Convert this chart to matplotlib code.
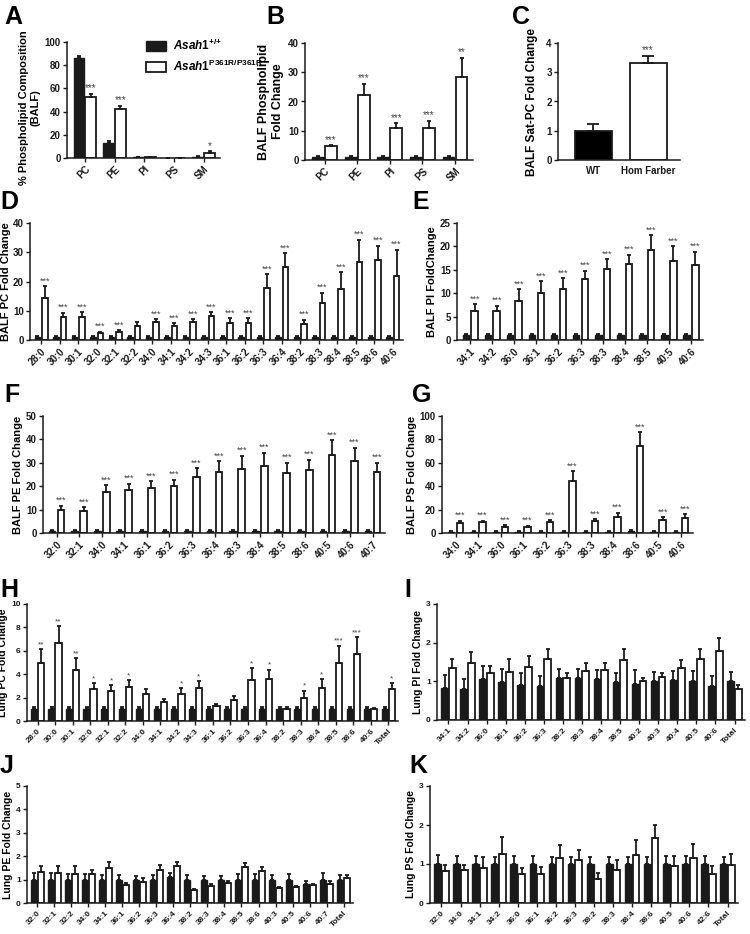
import numpy as np
import matplotlib
matplotlib.use('Agg')
import matplotlib.pyplot as plt
from matplotlib.patches import Patch

plt.rcParams['font.family'] = ['Liberation Sans', 'DejaVu Sans']
plt.rcParams['font.weight'] = 'bold'
plt.rcParams['axes.labelweight'] = 'bold'
plt.rcParams['mathtext.fontset'] = 'custom'
plt.rcParams['mathtext.rm'] = 'Liberation Sans:bold'
plt.rcParams['mathtext.it'] = 'Liberation Sans:italic:bold'
plt.rcParams['mathtext.bf'] = 'Liberation Sans:bold'

# ---- A: % composition
a_cats = ['PC', 'PE', 'PI', 'PS', 'SM']
a_wt = [86, 13, 0.5, 0.3, 1.0]
a_wt_e = [1.5, 1.5, 0.1, 0.1, 0.3]
a_mu = [52.5, 42.5, 0.5, 0.3, 4.5]
a_mu_e = [2.5, 2.5, 0.1, 0.1, 1.2]
a_stars = ['***', '***', '', '', '*']

# ---- B: BALF phospholipid fold change
b_wt = [1, 1, 1, 1, 1]
b_wt_e = [0.2, 0.2, 0.2, 0.2, 0.2]
b_mu = [4.7, 22.3, 11.0, 11.0, 28.5]
b_mu_e = [0.3, 3.8, 1.5, 2.3, 6.5]
b_stars = ['***', '***', '***', '***', '**']

# ---- C: Sat-PC
c_cats = ['WT', 'Hom Farber']
c_val = [1.0, 3.33]
c_err = [0.22, 0.23]

# ---- D: BALF PC species
d_cats = ['28:0', '30:0', '30:1', '32:0', '32:1', '32:2', '34:0', '34:1', '34:2', '34:3',
          '36:1', '36:2', '36:3', '36:4', '38:2', '38:3', '38:4', '38:5', '38:6', '40:6']
d_mu = [14.3, 7.7, 7.8, 2.3, 2.9, 4.9, 6.1, 4.8, 6.3, 8.3,
        5.7, 5.7, 17.7, 25.1, 5.4, 12.5, 17.5, 26.7, 27.4, 21.9]
d_mu_e = [4.0, 1.7, 1.7, 0.6, 0.5, 1.2, 1.0, 0.9, 0.8, 1.2,
          1.7, 1.7, 4.8, 4.6, 1.5, 3.7, 5.6, 7.6, 4.8, 9.0]
d_stars = ['***'] * 5 + [''] + ['***'] * 14

# ---- E: BALF PI species
e_cats = ['34:1', '34:2', '36:0', '36:1', '36:2', '36:3', '38:3', '38:4', '38:5', '40:5', '40:6']
e_mu = [6.3, 6.1, 8.4, 10.1, 11.0, 13.0, 15.1, 16.2, 19.3, 16.9, 16.0]
e_mu_e = [1.3, 1.2, 2.5, 2.5, 2.2, 1.8, 2.2, 2.0, 3.1, 3.2, 2.9]

# ---- F: BALF PE species
f_cats = ['32:0', '32:1', '34:0', '34:1', '36:1', '36:2', '36:3', '36:4', '38:3', '38:4',
          '38:5', '38:6', '40:5', '40:6', '40:7']
f_mu = [10.0, 9.5, 17.6, 18.4, 19.1, 19.9, 24.0, 26.1, 27.4, 28.6, 25.7, 27.0, 33.4, 30.9, 26.1]
f_mu_e = [1.6, 1.5, 2.7, 2.6, 3.0, 2.8, 3.7, 4.6, 5.6, 5.8, 4.4, 4.4, 6.2, 5.5, 3.9]

# ---- G: BALF PS species
g_cats = ['34:0', '34:1', '36:0', '36:1', '36:2', '36:3', '38:3', '38:4', '38:6', '40:5', '40:6']
g_wt = [1, 1, 1, 1, 1, 1, 1, 1, 2.0, 1, 1]
g_wt_e = [0.3, 0.3, 0.3, 0.3, 0.3, 0.3, 0.3, 0.3, 0.5, 0.3, 0.3]
g_mu = [8.5, 9.0, 5.5, 5.0, 9.0, 44.4, 10.0, 14.0, 74.7, 11.0, 13.0]
g_mu_e = [2.0, 1.5, 1.2, 1.2, 1.8, 8.2, 2.0, 3.5, 11.3, 2.5, 3.0]

# ---- H: lung PC
h_cats = ['28:0', '30:0', '30:1', '32:0', '32:1', '32:2', '34:0', '34:1', '34:2', '34:3',
          '36:1', '36:2', '36:3', '36:4', '38:2', '38:3', '38:4', '38:5', '38:6', '40:6', 'Total']
h_mu = [5.0, 6.65, 4.35, 2.7, 2.6, 2.9, 2.3, 1.6, 2.3, 2.8,
        1.25, 1.8, 3.5, 3.6, 1.05, 2.0, 2.85, 4.95, 5.7, 1.0, 2.7]
h_mu_e = [1.15, 1.5, 1.05, 0.55, 0.5, 0.6, 0.45, 0.25, 0.5, 0.6,
          0.2, 0.3, 1.05, 0.8, 0.15, 0.6, 0.7, 1.5, 1.45, 0.12, 0.55]
h_stars = ['**', '**', '**', '*', '*', '*', '', '', '*', '*',
           '', '', '*', '*', '', '*', '*', '***', '***', '', '*']

# ---- I: lung PI
i_cats = ['34:1', '34:2', '36:0', '36:1', '36:2', '36:3', '38:2', '38:3', '38:4', '38:5',
          '40:2', '40:3', '40:4', '40:5', '40:6', 'Total']
i_wt = [0.84, 0.80, 1.07, 0.98, 0.91, 0.89, 1.09, 1.09, 1.07, 0.97, 0.93, 1.0, 1.03, 1.0, 0.89, 1.0]
i_wt_e = [0.33, 0.26, 0.32, 0.34, 0.31, 0.24, 0.23, 0.23, 0.23, 0.25, 0.37, 0.23, 0.25, 0.28, 0.24, 0.24]
i_mu = [1.35, 1.48, 1.22, 1.24, 1.37, 1.57, 1.09, 1.26, 1.29, 1.55, 1.0, 1.11, 1.35, 1.57, 1.78, 0.8]
i_mu_e = [0.24, 0.29, 0.17, 0.34, 0.28, 0.27, 0.13, 0.22, 0.19, 0.28, 0.09, 0.11, 0.19, 0.27, 0.35, 0.1]

# ---- J: lung PE
j_cats = ['32:0', '32:1', '32:2', '34:0', '34:1', '36:1', '36:2', '36:3', '36:4', '38:2',
          '38:3', '38:4', '38:5', '38:6', '40:3', '40:5', '40:6', '40:7', 'Total']
j_wt = [1.0, 1.0, 1.0, 1.0, 1.0, 1.0, 1.0, 1.0, 1.09, 1.0, 1.0, 1.0, 1.0, 1.0, 1.0, 1.0, 0.83, 1.0, 1.0]
j_wt_e = [0.29, 0.29, 0.26, 0.26, 0.2, 0.2, 0.17, 0.2, 0.2, 0.2, 0.17, 0.17, 0.26, 0.26, 0.2, 0.24, 0.1, 0.29, 0.21]
j_mu = [1.33, 1.3, 1.26, 1.23, 1.5, 0.76, 0.9, 1.43, 1.57, 0.54, 0.73, 0.87, 1.54, 1.36, 0.66, 0.69, 0.76, 0.8, 1.07]
j_mu_e = [0.24, 0.29, 0.31, 0.2, 0.26, 0.1, 0.17, 0.21, 0.19, 0.07, 0.07, 0.07, 0.19, 0.18, 0.03, 0.04, 0.07, 0.13, 0.12]

# ---- K: lung PS
k_cats = ['32:0', '34:0', '34:1', '34:2', '36:0', '36:1', '36:2', '36:3', '38:2', '38:3',
          '38:4', '38:6', '40:5', '40:6', '42:6', 'Total']
k_wt = [1.0] * 16
k_wt_e = [0.22, 0.2, 0.2, 0.17, 0.2, 0.2, 0.17, 0.17, 0.17, 0.17, 0.17, 0.17, 0.2, 0.2, 0.2, 0.17]
k_mu = [0.81, 0.84, 0.9, 1.26, 0.74, 0.74, 1.15, 1.11, 0.62, 0.85, 1.24, 1.67, 0.94, 1.15, 0.75, 0.97]
k_mu_e = [0.17, 0.14, 0.27, 0.43, 0.16, 0.18, 0.35, 0.24, 0.15, 0.26, 0.38, 0.33, 0.26, 0.36, 0.21, 0.29]

INK = '#1a1a1a'
W, H = 750, 934
fig = plt.figure(figsize=(7.5, 9.34), dpi=100)


def box(x0, y0, x1, y1):
    return fig.add_axes([x0 / W, 1 - y1 / H, (x1 - x0) / W, (y1 - y0) / H])


def letter(x, y, s):
    fig.text(x / W, 1 - y / H, s, fontsize=18, fontweight='bold', va='top', ha='left')


def style(ax, ymax, ystep, ylabel, tfs=7, lfs=8, pad=2):
    for s in ['top', 'right']:
        ax.spines[s].set_visible(False)
    for s in ['left', 'bottom']:
        ax.spines[s].set_linewidth(1.1)
        ax.spines[s].set_color(INK)
    ax.set_ylim(0, ymax)
    ax.set_yticks(np.arange(0, ymax + ystep / 2, ystep))
    ax.tick_params(axis='both', length=3, width=1, colors=INK, labelsize=tfs, pad=1.5)
    ax.set_ylabel(ylabel, fontsize=lfs, labelpad=pad)


def grouped(ax, cats, wt, wt_e, mu, mu_e, stars=None, width=0.34, off=0.19,
            xfs=7, sfs=6, rot=45):
    n = len(cats)
    x = np.arange(n)
    z = np.zeros(n)
    ax.bar(x - off, wt, width, color=INK, edgecolor=INK, lw=1)
    ax.errorbar(x - off, wt, yerr=[z, wt_e], fmt='none', ecolor=INK,
                elinewidth=1.3, capsize=1.5, capthick=1.3)
    ax.bar(x + off, mu, width, color='white', edgecolor=INK, lw=1.3)
    ax.errorbar(x + off, mu, yerr=[z, mu_e], fmt='none', ecolor=INK,
                elinewidth=1.3, capsize=1.5, capthick=1.3)
    if stars:
        for xi, m, e, s in zip(x + off, mu, mu_e, stars):
            if s:
                ax.annotate(s, (xi, m + e), xytext=(0, 0.5), textcoords='offset points',
                            ha='center', va='bottom', fontsize=sfs, color='#444444',
                            fontweight='normal')
    ax.set_xticks(x)
    ax.set_xticklabels(cats, rotation=rot, ha='right' if rot else 'center',
                       rotation_mode='anchor', fontsize=xfs)
    ax.set_xlim(-0.6, n - 0.45)


# A
ax = box(67, 42, 220, 158)
grouped(ax, a_cats, a_wt, a_wt_e, a_mu, a_mu_e, a_stars, width=0.36, off=0.2, xfs=10, sfs=7)
style(ax, 100, 20, '% Phospholipid Composition\n(BALF)', tfs=7, lfs=8, pad=3)
ax.yaxis.label.set_y(0.43)
leg = ax.legend([Patch(facecolor=INK, edgecolor=INK), Patch(facecolor='white', edgecolor=INK, lw=1.3)],
                [r'$\mathit{Asah1}^{{+}/{+}}$', r'$\mathit{Asah1}^{\mathrm{P361R/P361R}}$'],
                loc='upper left', bbox_to_anchor=(146 / W, 1 - 38 / H), bbox_transform=fig.transFigure,
                frameon=False, fontsize=8.5, handlelength=1.7, handleheight=0.9,
                handletextpad=0.6, labelspacing=0.5, borderpad=0, borderaxespad=0)
letter(4, 5, 'A')

# B
ax = box(305, 43, 473, 160)
grouped(ax, a_cats, b_wt, b_wt_e, b_mu, b_mu_e, b_stars, width=0.36, off=0.2, xfs=10, sfs=7)
style(ax, 40, 10, 'BALF Phospholipid\nFold Change', tfs=7, lfs=9, pad=3)
letter(266, 5, 'B')

# C
ax = box(558, 43, 680, 160)
cx = np.arange(len(c_cats))
ax.bar(cx, c_val, 0.67, color=['black', 'white'], edgecolor=INK, lw=1.3)
ax.errorbar(cx, c_val, yerr=[np.zeros(2), c_err], fmt='none', ecolor=INK,
            elinewidth=1.3, capsize=4, capthick=1.3)
ax.annotate('***', (cx[1], c_val[1] + c_err[1]), xytext=(0, 0.5), textcoords='offset points',
            ha='center', va='bottom', fontsize=7, color='#444444', fontweight='normal')
ax.set_xticks(cx)
ax.set_xticklabels(c_cats, fontsize=9.5)
ax.set_xlim(-0.64, 1.58)
style(ax, 4, 1, 'BALF Sat-PC Fold Change', tfs=7, lfs=8.5, pad=6)
ax.tick_params(axis='x', length=0, pad=4)
letter(512, 5, 'C')

# D
ax = box(30, 223, 403, 340)
grouped(ax, d_cats, [1] * len(d_cats), [0.3] * len(d_cats), d_mu, d_mu_e, d_stars,
        width=0.3, off=0.2, xfs=7.5, sfs=6.5)
style(ax, 40, 10, 'BALF PC Fold Change', tfs=7, lfs=8, pad=1)
letter(0, 190, 'D')

# E
ax = box(457, 223, 703, 340)
grouped(ax, e_cats, [1] * len(e_cats), [0.2] * len(e_cats), e_mu, e_mu_e, ['***'] * len(e_cats),
        width=0.3, off=0.2, xfs=7.5, sfs=6.5)
style(ax, 25, 5, 'BALF PI FoldChange', tfs=7, lfs=8, pad=2)
letter(412, 190, 'E')

# F
ax = box(43, 416, 385, 533)
grouped(ax, f_cats, [1] * len(f_cats), [0.3] * len(f_cats), f_mu, f_mu_e, ['***'] * len(f_cats),
        width=0.3, off=0.2, xfs=7.5, sfs=6.5)
style(ax, 50, 10, 'BALF PE Fold Change', tfs=7, lfs=8, pad=2)
letter(4, 383, 'F')

# G
ax = box(442, 416, 693, 533)
grouped(ax, g_cats, g_wt, g_wt_e, g_mu, g_mu_e, ['***'] * len(g_cats),
        width=0.3, off=0.2, xfs=7.5, sfs=6.5)
style(ax, 100, 20, 'BALF PS Fold Change', tfs=7, lfs=8, pad=2)
letter(412, 383, 'G')

# H
ax = box(27, 604, 398, 721)
grouped(ax, h_cats, [1.0] * len(h_cats), [0.18] * len(h_cats), h_mu, h_mu_e, h_stars,
        width=0.36, off=0.2, xfs=6, sfs=6)
style(ax, 10, 2, 'Lung PC Fold Change', tfs=6, lfs=7.5)
letter(0, 578, 'H')

# I
ax = box(437, 604, 745, 720)
grouped(ax, i_cats, i_wt, i_wt_e, i_mu, i_mu_e, width=0.36, off=0.2, xfs=6)
style(ax, 3, 1, 'Lung PI Fold Change', tfs=6, lfs=7.5)
letter(404, 578, 'I')

# J
ax = box(27, 786, 353, 903)
grouped(ax, j_cats, j_wt, j_wt_e, j_mu, j_mu_e, width=0.36, off=0.2, xfs=6)
style(ax, 5, 1, 'Lung PE Fold Change', tfs=6, lfs=7.5)
letter(0, 754, 'J')

# K
ax = box(430, 786, 738, 903)
grouped(ax, k_cats, k_wt, k_wt_e, k_mu, k_mu_e, width=0.36, off=0.2, xfs=6)
style(ax, 3, 1, 'Lung PS Fold Change', tfs=6, lfs=7.5)
letter(409, 754, 'K')

fig.savefig('out.png', dpi=100)
